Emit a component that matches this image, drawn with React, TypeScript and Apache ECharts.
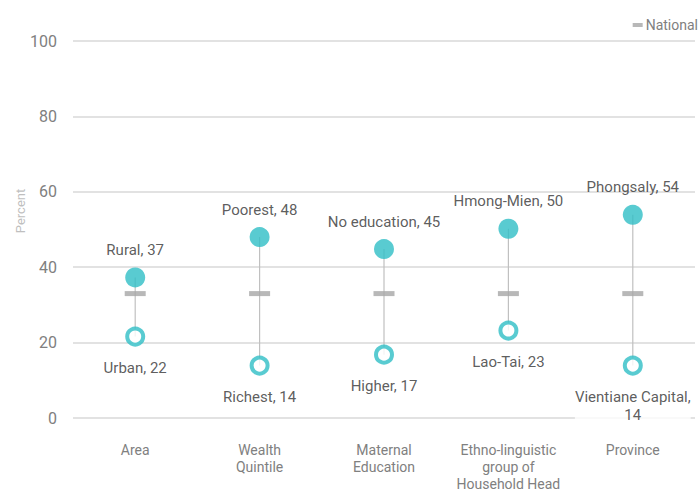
import React, { useEffect, useRef } from "react";
import * as echarts from "echarts";

const categories = ["Area", "Wealth\nQuintile", "Maternal\nEducation", "Ethno-linguistic\ngroup of\nHousehold Head", "Province"];
const highNames = ["Rural", "Poorest", "No education", "Hmong-Mien", "Phongsaly"];
const highValues = [37.3, 48, 44.8, 50.2, 53.9];
const highLabels = [37, 48, 45, 50, 54];
const lowNames = ["Urban", "Richest", "Higher", "Lao-Tai", "Vientiane Capital"];
const lowValues = [21.6, 13.9, 16.8, 23.2, 13.9];
const lowLabels = [22, 14, 17, 23, 14];
const nationalValues = [33, 33, 33, 33, 33];
const yAxisTitle = "Percent";

const TEAL = "#2fbec6";
const FONT = "'Liberation Sans Narrow', 'Roboto', sans-serif";

export default function App() {
  const ref = useRef<HTMLDivElement>(null);
  useEffect(() => {
    const chart = echarts.init(ref.current!, null, { renderer: "svg" });
    chart.setOption({
      animation: false,
      textStyle: { fontFamily: FONT },
      grid: { left: 73, right: 5, top: 41, bottom: 73, containLabel: false, outerBoundsMode: "none" },
      legend: {
        data: [{ name: "National", icon: "rect" }],
        right: -3,
        top: 13,
        itemWidth: 10,
        itemHeight: 4,
        itemGap: 3,
        textStyle: { color: "#808080", fontSize: 14, fontFamily: FONT, padding: [0, 0, 0, -2] },
      },
      graphic: [
        {
          type: "text",
          x: 20,
          y: 211,
          rotation: Math.PI / 2,
          style: {
            text: yAxisTitle,
            fill: "#bfbfbf",
            fontSize: 13,
            fontFamily: FONT,
            align: "center",
            verticalAlign: "middle",
          },
        },
      ],
      xAxis: {
        type: "category",
        data: categories,
        axisLine: { show: false },
        axisTick: { show: false },
        axisLabel: { color: "#808080", fontSize: 14, margin: 23, lineHeight: 17, interval: 0, fontFamily: FONT },
      },
      yAxis: {
        type: "value",
        min: 0,
        max: 100,
        interval: 20,
        axisLine: { show: false },
        axisTick: { show: false },
        axisLabel: { color: "#808080", fontSize: 16, margin: 16, fontFamily: FONT },
        splitLine: { lineStyle: { color: "#d9d9d9", width: 1.5 } },
      },
      series: [
        {
          type: "custom",
          silent: true,
          data: categories.map((_, i) => [i, lowValues[i], highValues[i]]),
          renderItem: (params: any, api: any) => {
            const a = api.coord([api.value(0), api.value(1)]);
            const b = api.coord([api.value(0), api.value(2)]);
            return {
              type: "line",
              shape: { x1: a[0], y1: a[1], x2: b[0], y2: b[1] },
              style: { stroke: "#c0c0c0", lineWidth: 1.2 },
            };
          },
          z: 1,
        },
        {
          name: "National",
          type: "scatter",
          symbol: "rect",
          symbolSize: [21, 5],
          itemStyle: { color: "#a6a6a6" },
          data: nationalValues,
          z: 2,
        },
        {
          name: "High",
          type: "scatter",
          symbol: "circle",
          symbolSize: 20,
          itemStyle: { color: TEAL },
          data: highValues.map((v, i) => ({ value: v, name: highNames[i] })),
          label: {
            show: true,
            position: "top",
            distance: 10,
            color: "#333333",
            fontSize: 15,
            fontFamily: FONT,
            formatter: (p: any) => `${highNames[p.dataIndex]}, ${highLabels[p.dataIndex]}`,
          },
          z: 3,
        },
        {
          name: "Low",
          type: "scatter",
          symbol: "circle",
          symbolSize: 16,
          itemStyle: { color: "#ffffff", borderColor: TEAL, borderWidth: 4 },
          data: lowValues.map((v, i) => ({ value: v, name: lowNames[i] })),
          label: {
            show: true,
            position: "bottom",
            distance: 12,
            color: "#333333",
            fontSize: 15,
            lineHeight: 18,
            fontFamily: FONT,
            backgroundColor: "#ffffff",
            formatter: (p: any) => {
              const i = p.dataIndex;
              return i === 4 ? `${lowNames[i]},\n${lowLabels[i]}` : `${lowNames[i]}, ${lowLabels[i]}`;
            },
          },
          z: 3,
        },
      ],
    });
    return () => chart.dispose();
  }, []);
  return <div ref={ref} style={{ width: 700, height: 491, position: "absolute", left: 0, top: 0 }} />;
}
